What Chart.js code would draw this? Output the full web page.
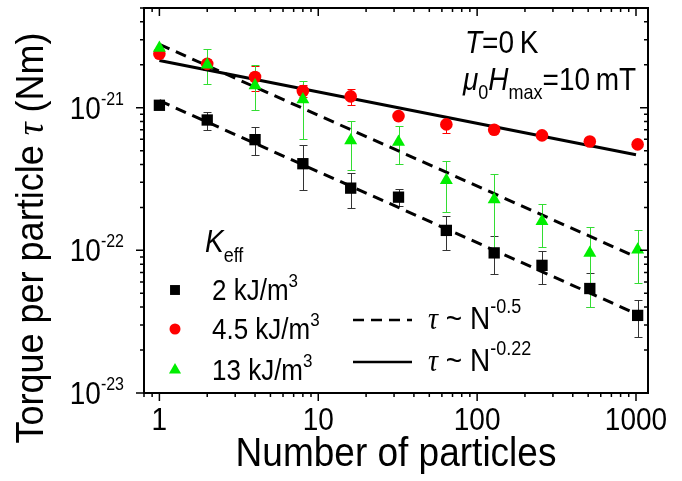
<!DOCTYPE html>
<html>
<head>
<meta charset="utf-8">
<script src="https://cdn.jsdelivr.net/npm/chart.js@4.4.0/dist/chart.umd.min.js"></script>
<style>
  html, body { margin: 0; padding: 0; background: #fff; }
  #wrap { width: 682px; height: 481px; position: relative; }
</style>
</head>
<body>
<div id="wrap"><canvas id="chart"></canvas></div>
<script>
// number of particles (x)
const particles = [1, 2, 4, 8, 16, 32, 64, 128, 256, 512, 1024];

// K_eff = 2 kJ/m3
const torque2   = [1.04e-21, 8.2e-22, 5.97e-22, 4.05e-22, 2.73e-22, 2.36e-22, 1.38e-22, 9.6e-23, 7.85e-23, 5.4e-23, 3.5e-23];
const torque2Hi = [null, 9.3e-22, 7.3e-22, 5.44e-22, 3.48e-22, 2.7e-22, 1.73e-22, 1.26e-22, 9.9e-23, 6.9e-23, 4.5e-23];
const torque2Lo = [null, 7.0e-22, 4.63e-22, 2.63e-22, 1.98e-22, 2.05e-22, 1.01e-22, 6.8e-23, 5.85e-23, 4.0e-23, 2.47e-23];

// K_eff = 4.5 kJ/m3
const torque45   = [2.39e-21, 2.03e-21, 1.64e-21, 1.31e-21, 1.2e-21, 8.73e-22, 7.64e-22, 7.0e-22, 6.4e-22, 5.8e-22, 5.53e-22];
const torque45Hi = [null, 2.2e-21, 1.95e-21, 1.45e-21, 1.36e-21, null, 8.0e-22, null, null, null, null];
const torque45Lo = [null, 1.85e-21, 1.32e-21, 1.18e-21, 1.05e-21, null, 6.64e-22, null, null, null, null];

// K_eff = 13 kJ/m3
const torque13   = [2.62e-21, 2.0e-21, 1.43e-21, 1.14e-21, 5.9e-22, 5.74e-22, 3.1e-22, 2.27e-22, 1.6e-22, 9.57e-23, 1.01e-22];
const torque13Hi = [null, 2.59e-21, 2.0e-21, 1.55e-21, 8.05e-22, 7.5e-22, 4.2e-22, 3.41e-22, 2.1e-22, 1.46e-22, 1.4e-22];
const torque13Lo = [null, 1.47e-21, 9.6e-22, 6.07e-22, 3.64e-22, 4.0e-22, 1.85e-22, 1.03e-22, 1.05e-22, 4.0e-23, 5.9e-23];

// fitted power laws, end points
const fitX    = [1, 1000];
const fitLow  = [1.12e-21, 3.6e-23];   // tau ~ N^-0.5
const fitMid  = [2.78e-21, 9.0e-23];   // tau ~ N^-0.5
const fitHigh = [2.14e-21, 4.68e-22];  // tau ~ N^-0.22

const xLabels = [1, 10, 100, 1000];
const yLabels = [1e-23, 1e-22, 1e-21];
const yExponents = ['-23', '-22', '-21'];

const SANS = '"Liberation Sans", Arial, sans-serif';
const SERIF = '"Liberation Serif", "Times New Roman", serif';
const RED = '#ff0000';
const GREEN = '#00ee00';
const STRETCH = 1.12; // the lettering in the figure is a bit taller than Arial

function pts(xs, ys) {
    return xs.map((v, i) => ({ x: v, y: ys[i] }));
}

// write a row of text pieces: [text, font, dy]
function drawParts(ctx, parts, x, y, align, sy) {
    sy = sy || STRETCH;
    let total = 0;
    parts.forEach(p => { ctx.font = p[1]; total += ctx.measureText(p[0]).width; });
    let cx = align === 'center' ? -total / 2 : align === 'right' ? -total : 0;
    ctx.save();
    ctx.translate(x, y);
    ctx.scale(1, sy);
    ctx.textAlign = 'left';
    ctx.textBaseline = 'alphabetic';
    parts.forEach(p => {
        ctx.font = p[1];
        ctx.fillText(p[0], cx, (p[2] || 0) / sy);
        cx += ctx.measureText(p[0]).width;
    });
    ctx.restore();
}

// error bars under the markers
const errorBars = {
    id: 'errorBars',
    beforeDatasetsDraw(chart) {
        const { ctx, scales: { x, y } } = chart;
        const sets = [
            [torque2Hi, torque2Lo, '#333'],
            [torque45Hi, torque45Lo, RED],
            [torque13Hi, torque13Lo, '#33dd33']
        ];
        ctx.save();
        ctx.lineWidth = 1;
        sets.forEach(([hi, lo, color]) => {
            ctx.strokeStyle = color;
            particles.forEach((n, i) => {
                if (hi[i] == null) return;
                const px = Math.round(x.getPixelForValue(n)) + 0.5;
                const top = Math.round(y.getPixelForValue(hi[i])) + 0.5;
                const bot = Math.round(y.getPixelForValue(lo[i])) + 0.5;
                ctx.beginPath();
                ctx.moveTo(px, top); ctx.lineTo(px, bot);
                ctx.moveTo(px - 4, top); ctx.lineTo(px + 4, top);
                ctx.moveTo(px - 4, bot); ctx.lineTo(px + 4, bot);
                ctx.stroke();
            });
        });
        ctx.restore();
    }
};

// frame, ticks on four sides, labels and the text blocks
const frame = {
    id: 'frame',
    afterDraw(chart) {
        const { ctx, chartArea: a, scales: { x, y } } = chart;
        ctx.save();
        ctx.strokeStyle = '#000';
        ctx.fillStyle = '#000';

        ctx.lineWidth = 1.5;
        ctx.beginPath();
        for (let e = -1; e <= 3; e++) {
            for (let m = 1; m <= 9; m++) {
                const v = m * Math.pow(10, e);
                if (v < x.min || v > x.max) continue;
                const px = x.getPixelForValue(v);
                const len = m === 1 ? 8 : 4;
                ctx.moveTo(px, a.bottom); ctx.lineTo(px, a.bottom + len);
                ctx.moveTo(px, a.top); ctx.lineTo(px, a.top + len);
            }
        }
        for (let e = -24; e <= -21; e++) {
            for (let m = 1; m <= 9; m++) {
                const v = m * Math.pow(10, e);
                if (v < y.min * 0.999 || v > y.max * 1.001) continue;
                const py = y.getPixelForValue(v);
                const len = m === 1 ? 8 : 4;
                ctx.moveTo(a.left - len, py); ctx.lineTo(a.left, py);
                ctx.moveTo(a.right - len, py); ctx.lineTo(a.right, py);
            }
        }
        ctx.stroke();

        ctx.lineWidth = 2;
        ctx.strokeRect(a.left, a.top, a.right - a.left, a.bottom - a.top);

        // tick labels
        xLabels.forEach(v => drawParts(ctx, [[String(v), '28px ' + SANS, 0]], x.getPixelForValue(v), 430, 'center'));
        yLabels.forEach((v, i) => {
            const py = y.getPixelForValue(v);
            drawParts(ctx, [['10', '28px ' + SANS, 0], [yExponents[i], '16px ' + SANS, -14]], 124, py + 11, 'right');
        });

        // axis titles
        drawParts(ctx, [['Number of particles', '37px ' + SANS, 0]], (a.left + a.right) / 2, 466, 'center');
        ctx.save();
        ctx.translate(43, 238);
        ctx.rotate(-Math.PI / 2);
        drawParts(ctx, [
            ['Torque per particle ', '36px ' + SANS, 0],
            ['\u03c4', 'italic 36px ' + SERIF, 0],
            [' (Nm)', '36px ' + SANS, 0]
        ], 0, 0, 'center', 1.07);
        ctx.restore();

        // conditions
        drawParts(ctx, [['T', 'italic 28px ' + SANS, 0], ['=0\u2009K', '28px ' + SANS, 0]], 465, 53, 'left');
        drawParts(ctx, [
            ['\u03bc', 'italic 28px ' + SANS, 0],
            ['0', '18px ' + SANS, 9],
            ['H', 'italic 28px ' + SANS, 0],
            ['max', '18px ' + SANS, 9],
            ['=10\u2009mT', '28px ' + SANS, 0]
        ], 463, 90, 'left');

        // legend for the anisotropy series
        drawParts(ctx, [['K', 'italic 28px ' + SANS, 0], ['eff', '18px ' + SANS, 10]], 205, 252, 'left');
        const entries = [
            ['2 kJ/m', 'rect', 7, '#000', 300],
            ['4.5 kJ/m', 'circle', 5.5, RED, 339],
            ['13 kJ/m', 'triangle', 7, GREEN, 380]
        ];
        entries.forEach(([label, style, r, color, base]) => {
            ctx.fillStyle = color;
            ctx.strokeStyle = color;
            Chart.helpers.drawPoint(ctx, { pointStyle: style, radius: r, rotation: 0, borderWidth: 0 }, 175, base - 10);
            ctx.fillStyle = '#000';
            drawParts(ctx, [[label, '26px ' + SANS, 0], ['3', '17px ' + SANS, -13]], 212, base, 'left');
        });

        // legend for the fits
        ctx.strokeStyle = '#000';
        ctx.lineWidth = 2.5;
        ctx.setLineDash([11, 7]);
        ctx.beginPath(); ctx.moveTo(353, 320); ctx.lineTo(412, 320); ctx.stroke();
        ctx.setLineDash([]);
        ctx.beginPath(); ctx.moveTo(353, 362); ctx.lineTo(412, 362); ctx.stroke();
        ctx.fillStyle = '#000';
        drawParts(ctx, [['\u03c4', 'italic 28px ' + SERIF, 0], [' ~ N', '28px ' + SANS, 0], ['-0.5', '18px ' + SANS, -16]], 428, 329, 'left');
        drawParts(ctx, [['\u03c4', 'italic 28px ' + SERIF, 0], [' ~ N', '28px ' + SANS, 0], ['-0.22', '18px ' + SANS, -16]], 428, 371, 'left');
        ctx.restore();
    }
};

const ctx = document.getElementById('chart').getContext('2d');
new Chart(ctx, {
    type: 'scatter',
    data: {
        datasets: [
            {
                label: '13 kJ/m3',
                data: pts(particles, torque13),
                pointStyle: 'triangle',
                pointRadius: 7.5,
                backgroundColor: GREEN,
                borderColor: GREEN,
                borderWidth: 0,
                order: 1
            },
            {
                label: '4.5 kJ/m3',
                data: pts(particles, torque45),
                pointStyle: 'circle',
                pointRadius: 6.3,
                backgroundColor: RED,
                borderColor: RED,
                borderWidth: 0,
                order: 2
            },
            {
                label: '2 kJ/m3',
                data: pts(particles, torque2),
                pointStyle: 'rect',
                pointRadius: 8,
                backgroundColor: '#000',
                borderColor: '#000',
                borderWidth: 0,
                order: 3
            },
            {
                label: 'fit low',
                data: pts(fitX, fitLow),
                showLine: true,
                pointRadius: 0,
                borderColor: '#000',
                borderWidth: 3,
                borderDash: [11, 7],
                order: 10
            },
            {
                label: 'fit mid',
                data: pts(fitX, fitMid),
                showLine: true,
                pointRadius: 0,
                borderColor: '#000',
                borderWidth: 3,
                borderDash: [11, 7],
                order: 10
            },
            {
                label: 'fit high',
                data: pts(fitX, fitHigh),
                showLine: true,
                pointRadius: 0,
                borderColor: '#000',
                borderWidth: 3,
                order: 10
            }
        ]
    },
    options: {
        responsive: true,
        maintainAspectRatio: false,
        animation: false,
        layout: { padding: { left: 144, right: 34, top: 7, bottom: 88 } },
        scales: {
            x: { type: 'logarithmic', min: 0.8, max: 1190, display: false },
            y: { type: 'logarithmic', min: 1e-23, max: 5e-21, display: false }
        },
        plugins: {
            legend: { display: false },
            tooltip: { enabled: false }
        }
    },
    plugins: [errorBars, frame]
});
</script>
</body>
</html>
